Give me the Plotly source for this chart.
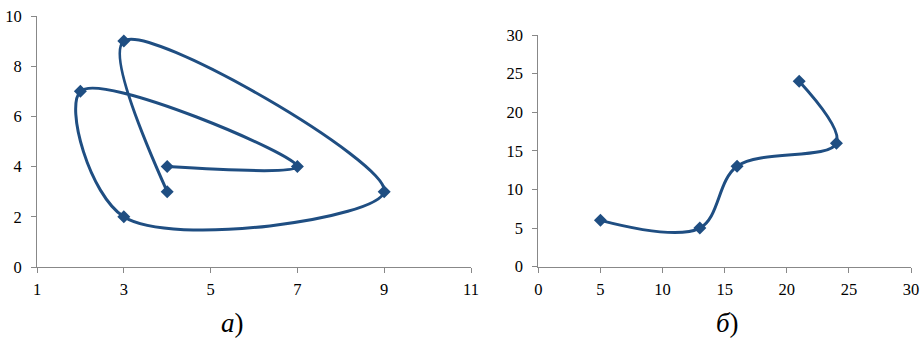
import plotly.graph_objects as go

# Left chart (a)
xa = [4, 3, 9, 3, 2, 7, 4]
ya = [3, 9, 3, 2, 7, 4, 4]
# Right chart (б)
xb = [5, 13, 16, 24, 21]
yb = [6, 5, 13, 16, 24]

xa_ticks = [1, 3, 5, 7, 9, 11]
ya_ticks = [0, 2, 4, 6, 8, 10]
xb_ticks = [0, 5, 10, 15, 20, 25, 30]
yb_ticks = [0, 5, 10, 15, 20, 25, 30]

color = "#1F4E82"
W, H = 920, 339

fig = go.Figure()
fig.add_trace(go.Scatter(x=xa, y=ya, mode="lines+markers", xaxis="x", yaxis="y",
                         line=dict(color=color, width=3, shape="spline", smoothing=1.0),
                         marker=dict(symbol="diamond", size=10, color=color),
                         showlegend=False))
fig.add_trace(go.Scatter(x=xb, y=yb, mode="lines+markers", xaxis="x2", yaxis="y2",
                         line=dict(color=color, width=3, shape="spline", smoothing=1.0),
                         marker=dict(symbol="diamond", size=10, color=color),
                         showlegend=False))

font = dict(family="Liberation Serif", size=16.5, color="#000")
axcommon = dict(showgrid=False, zeroline=False, showline=True, linecolor="#888888",
                linewidth=1, ticks="outside", ticklen=5, tickcolor="#888888",
                tickfont=font, automargin=False)

label_font = dict(family="Liberation Serif", size=27, color="#000")

fig.update_layout(
    template="none",
    width=W, height=H,
    margin=dict(l=0, r=0, t=0, b=0, pad=0),
    paper_bgcolor="white", plot_bgcolor="white",
    xaxis=dict(domain=[37 / W, 471 / W], range=[1, 11], tickvals=xa_ticks,
               anchor="y", ticklabelstandoff=2, **axcommon),
    yaxis=dict(domain=[72 / H, 323 / H], range=[0, 10], tickvals=ya_ticks,
               anchor="x", ticklabelstandoff=6, **axcommon),
    xaxis2=dict(domain=[538.3 / W, 911 / W], range=[0, 30], tickvals=xb_ticks,
                anchor="y2", ticklabelstandoff=2, **axcommon),
    yaxis2=dict(domain=[72.3 / H, 304 / H], range=[0, 30], tickvals=yb_ticks,
                anchor="x2", ticklabelstandoff=6, **axcommon),
    annotations=[
        dict(text="<i>а</i>)", x=233 / W, y=(339 - 323) / H, xref="paper", yref="paper",
             xanchor="center", yanchor="middle", showarrow=False, font=label_font),
        dict(text="<i>б</i>)", x=727 / W, y=(339 - 323) / H, xref="paper", yref="paper",
             xanchor="center", yanchor="middle", showarrow=False, font=label_font),
    ],
)

fig.write_html("out.html", config={"displayModeBar": False},
               post_script="document.body.style.margin='0';")
